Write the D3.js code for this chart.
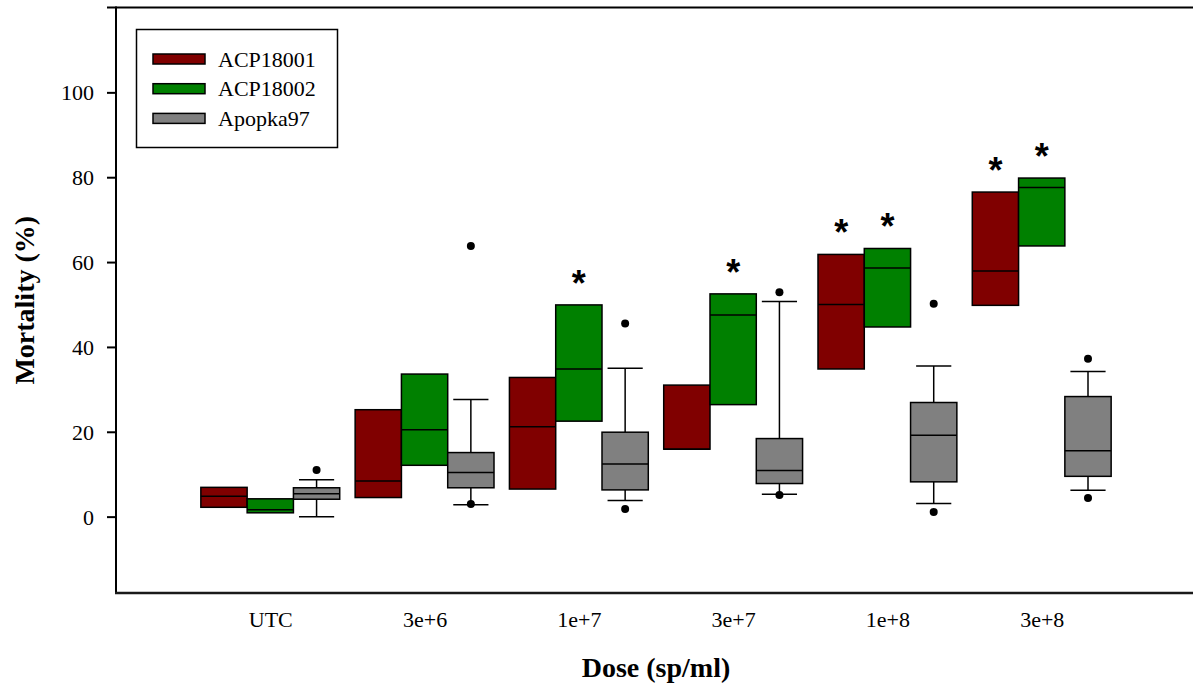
<!DOCTYPE html>
<html>
<head>
<meta charset="utf-8">
<script src="https://cdn.jsdelivr.net/npm/d3@7"></script>
<style>
  html, body { margin: 0; padding: 0; background: #fff; }
  svg { display: block; }
  text { font-family: "Liberation Serif", "Times New Roman", serif; fill: #000; }
  text.star { font-family: "Liberation Sans", Arial, sans-serif; font-weight: bold; }
</style>
</head>
<body>
<svg id="chart" width="1193" height="688"></svg>
<script>
// ---- Data ----
const categories = ["UTC", "3e+6", "1e+7", "3e+7", "1e+8", "3e+8"];
const seriesNames = ["ACP18001", "ACP18002", "Apopka97"];
const seriesColors = ["#800000", "#008000", "#808080"];
const yTicks = [0, 20, 40, 60, 80, 100];

// ACP18001
const acp18001Q1  = [2.2, 4.5, 6.5, 15.9, 34.8, 49.8];
const acp18001Med = [4.8, 8.4, 21.2, 15.9, 50.0, 57.9];
const acp18001Q3  = [6.9, 25.2, 32.8, 31.0, 61.8, 76.5];
const acp18001Sig = [false, false, false, false, true, true];

// ACP18002
const acp18002Q1  = [0.9, 12.1, 22.5, 26.4, 44.7, 63.8];
const acp18002Med = [1.6, 20.5, 34.8, 47.5, 58.6, 77.6];
const acp18002Q3  = [4.2, 33.6, 49.9, 52.5, 63.2, 79.8];
const acp18002Sig = [false, false, true, true, true, true];

// Apopka97
const apopkaQ1    = [4.1, 6.8, 6.3, 7.8, 8.2, 9.5];
const apopkaMed   = [5.4, 10.4, 12.4, 10.9, 19.2, 15.5];
const apopkaQ3    = [6.8, 15.1, 19.9, 18.4, 26.9, 28.3];
const apopkaWLo   = [0.0, 2.8, 3.8, 5.3, 3.1, 6.2];
const apopkaWHi   = [8.7, 27.6, 35.0, 50.7, 35.5, 34.2];
const apopkaOut   = [[11.0], [3.0, 63.8], [1.8, 45.5], [5.1, 52.9], [1.1, 50.2], [4.4, 37.2]];
const apopkaSig   = [false, false, false, false, false, false];

// ---- Build table ----
const series = [
  { name: seriesNames[0], color: seriesColors[0], q1: acp18001Q1, med: acp18001Med, q3: acp18001Q3, lo: null, hi: null, out: null, sig: acp18001Sig },
  { name: seriesNames[1], color: seriesColors[1], q1: acp18002Q1, med: acp18002Med, q3: acp18002Q3, lo: null, hi: null, out: null, sig: acp18002Sig },
  { name: seriesNames[2], color: seriesColors[2], q1: apopkaQ1, med: apopkaMed, q3: apopkaQ3, lo: apopkaWLo, hi: apopkaWHi, out: apopkaOut, sig: apopkaSig }
];
const boxes = [];
series.forEach((s, si) => {
  categories.forEach((c, ci) => {
    boxes.push({
      si, ci, color: s.color,
      q1: s.q1[ci], med: s.med[ci], q3: s.q3[ci],
      lo: s.lo ? s.lo[ci] : null, hi: s.hi ? s.hi[ci] : null,
      out: s.out ? s.out[ci] : [], sig: s.sig[ci]
    });
  });
});

// ---- Layout ----
const svg = d3.select("#chart");
const mLeft = 116, mRight = 1196, mTop = 7.5, mBottom = 593;
const x = d3.scaleLinear().domain([0, categories.length + 1]).range([mLeft, mRight]);
const y = d3.scaleLinear().domain([-18, 120]).range([mBottom, mTop]);
const boxW = x(0.3) - x(0);
const capW = boxW * 0.76;
const boxLeft = d => x(d.ci + 1) + (d.si - 1) * boxW - boxW / 2;
const boxCenter = d => x(d.ci + 1) + (d.si - 1) * boxW;

// ---- Axes frame ----
const yAxis = d3.axisLeft(y).tickValues(yTicks).tickSize(9).tickPadding(13).tickFormat(d3.format("d"));
const gy = svg.append("g").attr("transform", `translate(${mLeft},0)`).call(yAxis);
gy.select(".domain").remove();
gy.selectAll(".tick line").attr("stroke", "#000").attr("stroke-width", 2);
gy.selectAll(".tick text").attr("font-size", 22).attr("dy", "0.34em");

const xAxis = d3.axisBottom(x).tickValues(d3.range(1, categories.length + 1)).tickSize(0).tickPadding(18)
  .tickFormat(d => categories[d - 1]);
const gx = svg.append("g").attr("transform", `translate(0,${mBottom})`).call(xAxis);
gx.select(".domain").remove();
gx.selectAll(".tick text").attr("font-size", 22);

// frame lines
svg.append("line").attr("x1", mLeft).attr("x2", mLeft).attr("y1", mTop - 1).attr("y2", mBottom + 1)
  .attr("stroke", "#000").attr("stroke-width", 2);
svg.append("line").attr("x1", mLeft - 1).attr("x2", 1193).attr("y1", mBottom).attr("y2", mBottom)
  .attr("stroke", "#1a1a1a").attr("stroke-width", 2.5);
svg.append("line").attr("x1", mLeft - 9).attr("x2", 1193).attr("y1", y(120)).attr("y2", y(120))
  .attr("stroke", "#000").attr("stroke-width", 2);

// ---- Boxes ----
const g = svg.append("g");
const bg = g.selectAll("g.box").data(boxes).join("g").attr("class", "box");

// whiskers (only where present)
const wb = bg.filter(d => d.lo !== null);
wb.append("line").attr("x1", boxCenter).attr("x2", boxCenter)
  .attr("y1", d => y(d.q3)).attr("y2", d => y(d.hi)).attr("stroke", "#000").attr("stroke-width", 1.5);
wb.append("line").attr("x1", boxCenter).attr("x2", boxCenter)
  .attr("y1", d => y(d.q1)).attr("y2", d => y(d.lo)).attr("stroke", "#000").attr("stroke-width", 1.5);
wb.append("line").attr("x1", d => boxCenter(d) - capW / 2).attr("x2", d => boxCenter(d) + capW / 2)
  .attr("y1", d => y(d.hi)).attr("y2", d => y(d.hi)).attr("stroke", "#000").attr("stroke-width", 1.5);
wb.append("line").attr("x1", d => boxCenter(d) - capW / 2).attr("x2", d => boxCenter(d) + capW / 2)
  .attr("y1", d => y(d.lo)).attr("y2", d => y(d.lo)).attr("stroke", "#000").attr("stroke-width", 1.5);

bg.append("rect")
  .attr("x", boxLeft).attr("width", boxW)
  .attr("y", d => y(d.q3)).attr("height", d => y(d.q1) - y(d.q3))
  .attr("fill", d => d.color).attr("stroke", "#000").attr("stroke-width", 1.5);
bg.append("line")
  .attr("x1", boxLeft).attr("x2", d => boxLeft(d) + boxW)
  .attr("y1", d => y(d.med)).attr("y2", d => y(d.med))
  .attr("stroke", "#000").attr("stroke-width", 1.5);

// outliers
bg.selectAll("circle").data(d => d.out.map(v => ({ v, d }))).join("circle")
  .attr("cx", o => boxCenter(o.d)).attr("cy", o => y(o.v)).attr("r", 4).attr("fill", "#000");

// significance stars
bg.filter(d => d.sig).append("text")
  .attr("class", "star")
  .attr("x", boxCenter).attr("y", d => y(d.q3) - 9)
  .attr("text-anchor", "middle")
  .attr("font-size", 36)
  .text("*");

// ---- Axis titles ----
svg.append("text")
  .attr("transform", `translate(34,${(mTop + mBottom) / 2}) rotate(-90)`)
  .attr("text-anchor", "middle").attr("font-size", 28).attr("font-weight", "bold")
  .text("Mortality (%)");
svg.append("text")
  .attr("x", (mLeft + mRight) / 2).attr("y", 677)
  .attr("text-anchor", "middle").attr("font-size", 28).attr("font-weight", "bold")
  .text("Dose (sp/ml)");

// ---- Legend ----
const lg = svg.append("g");
lg.append("rect").attr("x", 136.5).attr("y", 29.5).attr("width", 201).attr("height", 118)
  .attr("fill", "#fff").attr("stroke", "#000").attr("stroke-width", 1.5);
const li = lg.selectAll("g.item").data(series).join("g").attr("class", "item")
  .attr("transform", (d, i) => `translate(0,${59 + i * 29.7})`);
li.append("rect").attr("x", 153).attr("y", -5).attr("width", 52).attr("height", 10)
  .attr("fill", d => d.color).attr("stroke", "#000").attr("stroke-width", 1.5);
li.append("text").attr("x", 218).attr("y", 7.7).attr("font-size", 22).text(d => d.name);
</script>
</body>
</html>
